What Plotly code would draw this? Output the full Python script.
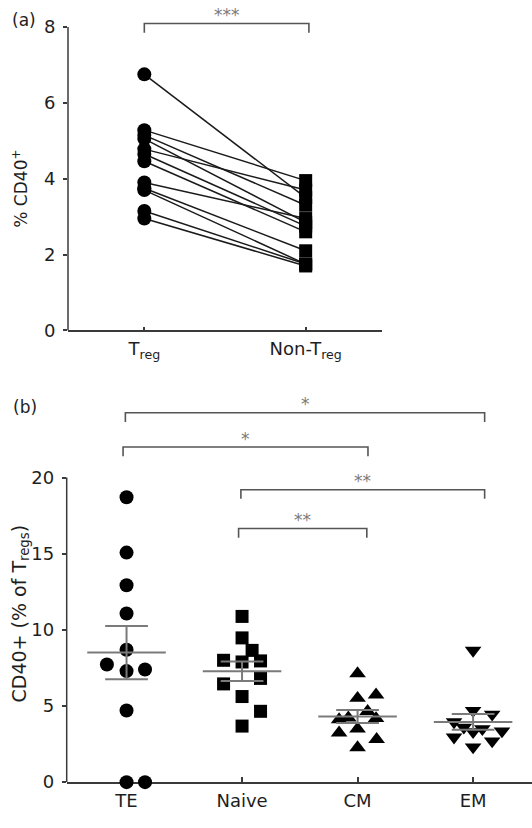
import numpy as np
import plotly.graph_objects as go

# ---------------- data ----------------
# Panel (a): paired values, % CD40+
pair_categories = ["T<sub>reg</sub>", "Non-T<sub>reg</sub>"]
treg_values = [6.75, 5.28, 5.15, 5.05, 4.78, 4.65, 4.46, 3.90, 3.75, 3.70, 3.15, 2.95]
non_treg_values = [3.50, 3.95, 3.30, 2.85, 3.70, 2.75, 2.60, 2.95, 2.10, 1.75, 1.75, 1.70]
a_ticks = [0, 2, 4, 6, 8]

# Panel (b): CD40+ (% of Tregs) per subset
subset_categories = ["TE", "Naive", "CM", "EM"]
te_values = [18.7, 15.07, 12.93, 11.07, 8.69, 7.72, 7.29, 7.40, 4.70, 0.0, 0.0]
naive_values = [10.88, 9.47, 8.65, 8.00, 7.89, 7.96, 6.45, 6.81, 5.62, 4.65, 3.68]
cm_values = [7.13, 5.51, 5.73, 4.11, 4.22, 4.65, 4.18, 3.24, 3.50, 2.81, 2.27]
em_values = [8.65, 4.70, 4.45, 3.95, 3.60, 3.50, 3.35, 3.30, 2.95, 2.70, 2.30]
b_ticks = [0, 5, 10, 15, 20]

# scatter (swarm) horizontal offsets, in category units (layout only)
te_offset = [0, 0, 0, 0, 0, -0.17, 0, 0.16, 0, 0, 0.16]
naive_offset = [0, 0, 0.087, -0.16, 0, 0.16, -0.16, 0.16, 0, 0.16, 0]
cm_offset = [0, 0, 0.16, -0.16, -0.08, 0.087, 0.16, -0.16, 0, 0.165, 0]
em_offset = [0, 0, 0.165, -0.165, -0.08, 0.08, 0.25, 0, -0.165, 0.165, 0]

# significance brackets (x0, x1 in category units, y level, label)
a_brackets = [(0.0, 1.02, 8.09, "***")]
b_brackets = [
    (-0.01, 3.10, 24.25, "*"),
    (-0.03, 2.09, 22.0, "*"),
    (0.99, 3.10, 19.2, "**"),
    (0.97, 2.08, 16.65, "**"),
]

# ---------------- styling ----------------
W, H = 532, 828
FONT = "DejaVu Sans, Verdana, sans-serif"
AX = "#3a3a3a"
TXT = "#1e1e1e"
GRAY = "#7a7a7a"


def px(x):
    return x / W


def py(y):
    return 1 - y / H


fig = go.Figure()

# ---- panel (a): paired lines ----
lx, ly = [], []
for t, n in zip(treg_values, non_treg_values):
    lx += [0, 1, None]
    ly += [t, n, None]
fig.add_trace(go.Scatter(x=lx, y=ly, mode="lines", line=dict(color="#1a1a1a", width=1.5),
                         xaxis="x", yaxis="y", hoverinfo="skip", showlegend=False))
fig.add_trace(go.Scatter(x=[0] * len(treg_values), y=treg_values, mode="markers",
                         marker=dict(symbol="circle", size=14, color="black"),
                         xaxis="x", yaxis="y", showlegend=False, cliponaxis=False))
fig.add_trace(go.Scatter(x=[1] * len(non_treg_values), y=non_treg_values, mode="markers",
                         marker=dict(symbol="square", size=13, color="black"),
                         xaxis="x", yaxis="y", showlegend=False, cliponaxis=False))

# ---- panel (b): scatter + mean ± SEM ----
groups = [te_values, naive_values, cm_values, em_values]
offsets = [te_offset, naive_offset, cm_offset, em_offset]
symbols = ["circle", "square", "triangle-up", "triangle-down"]
sizes = [14, 13, 14.5, 14.5]
for i, (vals, offs, sym, sz) in enumerate(zip(groups, offsets, symbols, sizes)):
    fig.add_trace(go.Scatter(x=[i + o for o in offs], y=vals, mode="markers",
                             marker=dict(symbol=sym, size=sz, color="black"),
                             xaxis="x2", yaxis="y2", showlegend=False, cliponaxis=False))

mx, my = [], []
for i, vals in enumerate(groups):
    v = np.array(vals)
    m = v.mean()
    s = v.std(ddof=1) / np.sqrt(len(v))
    mx += [i - 0.34, i + 0.34, None, i, i, None,
           i - 0.185, i + 0.185, None, i - 0.185, i + 0.185, None]
    my += [m, m, None, m - s, m + s, None,
           m + s, m + s, None, m - s, m - s, None]
fig.add_trace(go.Scatter(x=mx, y=my, mode="lines", line=dict(color=GRAY, width=2),
                         xaxis="x2", yaxis="y2", hoverinfo="skip", showlegend=False))

# ---- brackets ----
shapes = []
annotations = []


def add_bracket(x0, x1, y, label, xref, yref, drop, star_dy):
    shapes.append(dict(type="path", xref=xref, yref=yref,
                       path=f"M {x0},{y - drop} L {x0},{y} L {x1},{y} L {x1},{y - drop}",
                       line=dict(color="#555", width=1.6)))
    annotations.append(dict(x=(x0 + x1) / 2, y=y + star_dy, xref=xref, yref=yref,
                            text=label, showarrow=False, xanchor="center", yanchor="middle",
                            font=dict(family=FONT, size=17, color=GRAY)))


for x0, x1, y, lab in a_brackets:
    add_bracket(x0, x1, y, lab, "x", "y", 0.24, 0.22)
for x0, x1, y, lab in b_brackets:
    add_bracket(x0, x1, y, lab, "x2", "y2", 0.6, 0.55)

# manual y-axis lines (stop at top tick)
shapes.append(dict(type="line", xref="x domain", yref="y", x0=0, x1=0, y0=0, y1=a_ticks[-1],
                   line=dict(color=AX, width=1.5), layer="below"))
shapes.append(dict(type="line", xref="x2 domain", yref="y2", x0=0, x1=0, y0=0, y1=b_ticks[-1],
                   line=dict(color=AX, width=1.5), layer="below"))

# panel labels and axis titles
annotations += [
    dict(x=px(24), y=py(20), xref="paper", yref="paper", text="(a)", showarrow=False,
         xanchor="center", yanchor="middle", font=dict(family=FONT, size=17, color=TXT)),
    dict(x=px(25), y=py(412), xref="paper", yref="paper", text="(b)", showarrow=False,
         xanchor="center", yanchor="middle", font=dict(family=FONT, size=17, color=TXT)),
    dict(x=px(20), y=py(191), xref="paper", yref="paper", text="% CD40<sup>+</sup>",
         showarrow=False, textangle=-90, xanchor="center", yanchor="middle",
         font=dict(family=FONT, size=17, color=TXT)),
    dict(x=px(20), y=py(621), xref="paper", yref="paper",
         text="CD40+ (% of T<sub>regs</sub>)",
         showarrow=False, textangle=-90, xanchor="center", yanchor="middle",
         font=dict(family=FONT, size=19, color=TXT)),
]

common_axis = dict(showgrid=False, zeroline=False, linecolor=AX, linewidth=1.5,
                   tickcolor=AX, tickwidth=1.5, layer="below traces",
                   tickfont=dict(family=FONT, size=18, color=TXT))

fig.update_layout(
    width=W, height=H,
    margin=dict(l=0, r=0, t=0, b=0),
    paper_bgcolor="white", plot_bgcolor="white",
    showlegend=False,
    hovermode=False,
    xaxis=dict(domain=[px(68), px(382)], range=[-0.473, 1.473], tickmode="array",
               tickvals=[0, 1], ticktext=pair_categories, ticks="inside", ticklen=4,
               showline=True, anchor="y", ticklabelstandoff=1, **common_axis),
    yaxis=dict(domain=[py(334.5), py(5)], range=[0, 8.58], tickmode="array",
               tickvals=a_ticks, ticks="outside", ticklen=4, showline=False,
               anchor="x", ticklabelstandoff=4, **common_axis),
    xaxis2=dict(domain=[px(66.7), 1.0], range=[-0.518, 3.51], tickmode="array",
                tickvals=[0, 1, 2, 3], ticktext=subset_categories, ticks="inside", ticklen=5,
                showline=True, anchor="y2", ticklabelstandoff=2, **common_axis),
    yaxis2=dict(domain=[py(791.7), py(395)], range=[0, 25.73], tickmode="array",
                tickvals=b_ticks, ticks="outside", ticklen=4, showline=False,
                anchor="x2", ticklabelstandoff=4, **common_axis),
    shapes=shapes,
    annotations=annotations,
)

fig.write_html("out.html", config={"displayModeBar": False},
               post_script="document.body.style.margin='0px';")
